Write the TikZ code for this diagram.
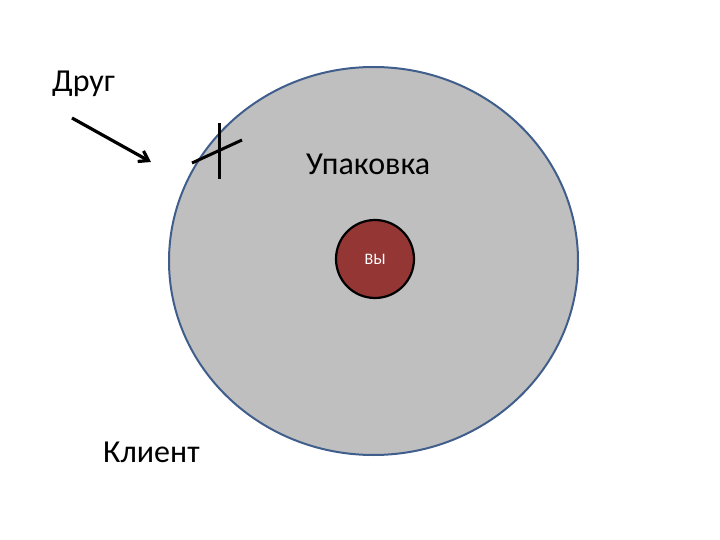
\documentclass[tikz,border=0pt]{standalone}
\usepackage{fontspec}
\setmainfont{Carlito}
\usetikzlibrary{shapes.geometric,arrows.meta}
\definecolor{pack}{RGB}{191,191,191}
\definecolor{packedge}{RGB}{64,94,140}
\definecolor{you}{RGB}{148,54,52}
\tikzset{
  label text/.style={font=\fontsize{32}{38}\selectfont, text=black, inner sep=0pt},
  cross line/.style={line width=3pt, black},
}
\begin{document}
\begin{tikzpicture}[x=1pt,y=-1pt]
\useasboundingbox (0,0) rectangle (720,540);
\node[ellipse, draw=packedge, line width=2pt, fill=pack, minimum width=409pt, minimum height=388pt, inner sep=0pt] (pack) at (373.5,261) {};
\node[circle, draw=black, line width=2.2pt, fill=you, minimum size=78pt, inner sep=0pt, text=white, font=\fontsize{16}{18}\selectfont] (you) at (375,259) {ВЫ};
\node[label text, anchor=base west] (packlabel) at (306,175) {Упаковка};
\node[label text, anchor=base west] (friend) at (52,92) {Друг};
\node[label text, anchor=base west] (client) at (103,462) {Клиент};
\coordinate (arrowstart) at (72,118);
\coordinate (arrowend) at (151,162);
\draw[line width=3.2pt, -{Straight Barb[length=9pt,width=12pt,line width=3.2pt]}] (arrowstart) -- (arrowend);
\coordinate (v1) at (219,123);
\coordinate (v2) at (219,179);
\coordinate (d1) at (192,163);
\coordinate (d2) at (242,140);
\draw[cross line] (v1) -- (v2);
\draw[cross line] (d1) -- (d2);
\end{tikzpicture}
\end{document}
